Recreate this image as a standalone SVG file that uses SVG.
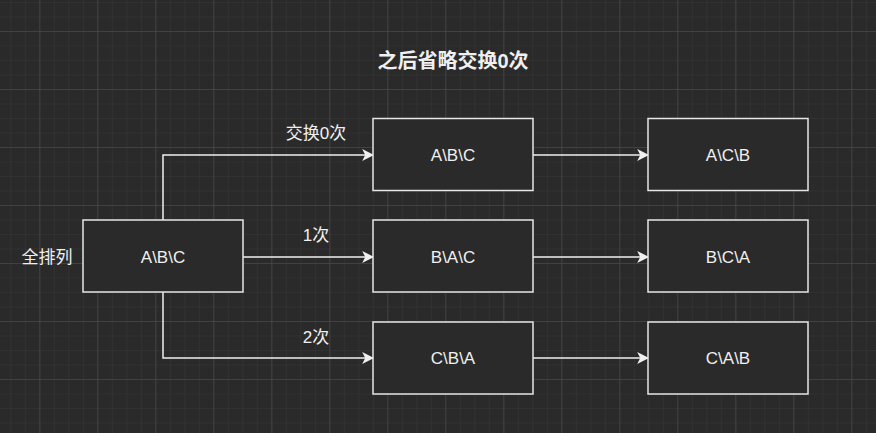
<svg xmlns="http://www.w3.org/2000/svg" width="876" height="433" viewBox="0 0 876 433">
<defs>
<pattern id="minor" x="10.3" y="2" width="14.5" height="14.5" patternUnits="userSpaceOnUse">
<path d="M0 0H14.5M0 0V14.5" fill="none" stroke="#383838" stroke-width="1"/>
</pattern>
<pattern id="major" x="39.3" y="31" width="58" height="58" patternUnits="userSpaceOnUse">
<path d="M0 0H58M0 0V58" fill="none" stroke="#525252" stroke-width="1"/>
</pattern>
<marker id="arr" viewBox="0 0 10 10" refX="9" refY="5" markerWidth="12" markerHeight="12" markerUnits="userSpaceOnUse" orient="auto">
<path d="M0 0L10 5L0 10L2.5 5Z" fill="#f0f0f0"/>
</marker>
</defs>
<style>
.box{fill:#2a2a2a;stroke:#e6e6e6;stroke-width:1.5}
.t{font-family:"Liberation Sans","Noto Sans CJK SC",sans-serif;font-size:17px;fill:#f0f0f0;text-anchor:middle;dominant-baseline:central}
.c{fill:none;stroke:#f0f0f0;stroke-width:1.5;marker-end:url(#arr)}
</style>
<rect width="876" height="433" fill="#2a2a2a"/>
<rect width="876" height="433" fill="url(#minor)"/>
<rect width="876" height="433" fill="url(#major)"/>
<text class="t" x="453" y="61" style="font-weight:bold;font-size:20px">之后省略交换0次</text>
<text class="t" x="47" y="257">全排列</text>
<g id="connectors">
<path class="c" d="M163 220V155H373"/>
<path class="c" d="M243 257H373"/>
<path class="c" d="M163 292V358H373"/>
<path class="c" d="M533 155H648"/>
<path class="c" d="M533 257H648"/>
<path class="c" d="M533 358H648"/>
<text class="t" x="316" y="133">交换0次</text>
<text class="t" x="316" y="235">1次</text>
<text class="t" x="316" y="337">2次</text>
</g>
<g id="root"><rect class="box" x="83" y="220" width="160" height="72"/><text class="t" x="163" y="257">A\B\C</text></g>
<g id="n1"><rect class="box" x="373" y="118.5" width="160" height="72"/><text class="t" x="453" y="155">A\B\C</text></g>
<g id="n2"><rect class="box" x="373" y="220" width="160" height="72"/><text class="t" x="453" y="257">B\A\C</text></g>
<g id="n3"><rect class="box" x="373" y="322" width="160" height="72"/><text class="t" x="453" y="358">C\B\A</text></g>
<g id="n4"><rect class="box" x="648" y="118.5" width="160" height="72"/><text class="t" x="728" y="155">A\C\B</text></g>
<g id="n5"><rect class="box" x="648" y="220" width="160" height="72"/><text class="t" x="728" y="257">B\C\A</text></g>
<g id="n6"><rect class="box" x="648" y="322" width="160" height="72"/><text class="t" x="728" y="358">C\A\B</text></g>
</svg>
